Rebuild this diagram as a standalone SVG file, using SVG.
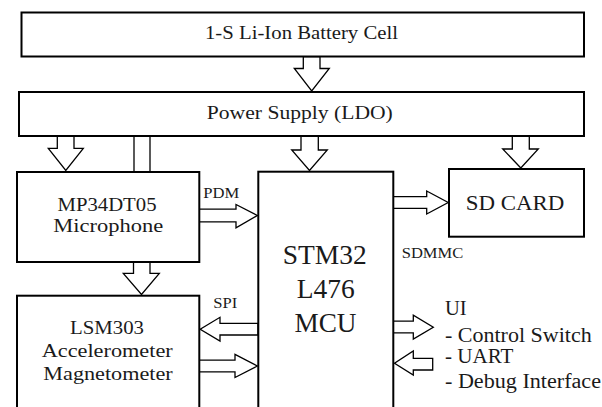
<svg xmlns="http://www.w3.org/2000/svg" width="602" height="407" viewBox="0 0 602 407" font-family="'Liberation Serif', 'Times New Roman', serif">
<style>
.box{fill:#fff;stroke:#000;stroke-width:2}
.arr{fill:#fff;stroke:#000;stroke-width:1.3;stroke-linejoin:miter}
.ln{fill:none;stroke:#000;stroke-width:1.3}
text{font-family:'Liberation Serif','Times New Roman',serif;fill:#1a1a1a}
.c{text-anchor:middle}
</style>
<rect width="602" height="407" fill="#fff"/>
<g id="connectors">
<polygon class="arr" points="303.3,56.5 320,56.5 320,68.5 329.3,68.5 311.7,91 294.3,68.5 303.3,68.5"/>
<polygon class="arr" points="57.3,136 74,136 74,148.3 83.3,148.3 65.8,170.5 48.3,148.3 57.3,148.3"/>
<polygon class="arr" points="301,136 318.3,136 318.3,150 327.3,150 309.5,170.5 291.7,150 301,150"/>
<polygon class="arr" points="512.3,136 529.3,136 529.3,149 538.3,149 520.8,168 502.7,149 512.3,149"/>
<line class="ln" x1="134" y1="136" x2="134" y2="172"/>
<line class="ln" x1="150" y1="136" x2="150" y2="172"/>
<polygon class="arr" points="133.5,262 150,262 150,273.3 159.3,273.3 141.5,294.5 123.3,273.3 133.5,273.3"/>
<polygon class="arr" points="199,209.2 236,209.2 236,204.5 257.3,215.5 236,227.8 236,221.8 199,221.8"/>
<polygon class="arr" points="393,196.7 426.7,196.7 426.7,191 448.2,202.5 426.7,214 426.7,208.3 393,208.3"/>
<polygon class="arr" points="258,323.3 220,323.3 220,317.3 200.2,329.3 220,341 220,335 258,335"/>
<polygon class="arr" points="199,360.2 235,360.2 235,354.3 257.3,366 235,377.5 235,371.8 199,371.8"/>
<polygon class="arr" points="393,321.2 413.3,321.2 413.3,315.2 433.3,327.2 413.3,339 413.3,332.8 393,332.8"/>
<polygon class="arr" points="432.7,358.3 413.3,358.3 413.3,351 394.5,363.2 413.3,375 413.3,370 432.7,370"/>
</g>
<g id="battery">
<rect class="box" x="21.5" y="12.5" width="562.5" height="44"/>
<text class="c" x="301.5" y="39.3" font-size="18" textLength="193" lengthAdjust="spacingAndGlyphs">1-S Li-Ion Battery Cell</text>
</g>
<g id="power">
<rect class="box" x="19" y="92" width="565" height="44"/>
<text class="c" x="299.8" y="119.3" font-size="18" textLength="186" lengthAdjust="spacingAndGlyphs">Power Supply (LDO)</text>
</g>
<g id="microphone">
<rect class="box" x="17" y="172" width="182.3" height="90"/>
<text class="c" x="107" y="211" font-size="19" textLength="99" lengthAdjust="spacingAndGlyphs">MP34DT05</text>
<text class="c" x="108.3" y="231.7" font-size="19" textLength="110" lengthAdjust="spacingAndGlyphs">Microphone</text>
</g>
<g id="mcu">
<rect class="box" x="258.3" y="171.7" width="135" height="245"/>
<text class="c" x="324.7" y="263.5" font-size="27" textLength="84" lengthAdjust="spacingAndGlyphs">STM32</text>
<text class="c" x="325.8" y="298.3" font-size="27" textLength="58" lengthAdjust="spacingAndGlyphs">L476</text>
<text class="c" x="325.5" y="331.7" font-size="27" textLength="62" lengthAdjust="spacingAndGlyphs">MCU</text>
</g>
<g id="sdcard">
<rect class="box" x="449" y="169" width="135" height="67.7"/>
<text class="c" x="515" y="210" font-size="22" textLength="98.6" lengthAdjust="spacingAndGlyphs">SD CARD</text>
</g>
<g id="lsm303">
<rect class="box" x="17" y="295.7" width="182.3" height="125"/>
<text class="c" x="107" y="334" font-size="19" textLength="74" lengthAdjust="spacingAndGlyphs">LSM303</text>
<text class="c" x="107.2" y="356.7" font-size="19" textLength="131" lengthAdjust="spacingAndGlyphs">Accelerometer</text>
<text class="c" x="108" y="380" font-size="19" textLength="129.4" lengthAdjust="spacingAndGlyphs">Magnetometer</text>
</g>
<g id="labels">
<text x="203.3" y="197.7" font-size="15" textLength="36" lengthAdjust="spacingAndGlyphs">PDM</text>
<text x="401.7" y="258.3" font-size="15" textLength="61.6" lengthAdjust="spacingAndGlyphs">SDMMC</text>
<text x="213.3" y="307.7" font-size="15" textLength="24" lengthAdjust="spacingAndGlyphs">SPI</text>
</g>
<g id="ui">
<text x="445" y="315" font-size="20" textLength="21.7" lengthAdjust="spacingAndGlyphs">UI</text>
<text x="445" y="341.7" font-size="20" textLength="146.7" lengthAdjust="spacingAndGlyphs">- Control Switch</text>
<text x="445" y="363.3" font-size="20" textLength="68.3" lengthAdjust="spacingAndGlyphs">- UART</text>
<text x="445" y="388.3" font-size="20" textLength="156" lengthAdjust="spacingAndGlyphs">- Debug Interface</text>
</g>
</svg>
